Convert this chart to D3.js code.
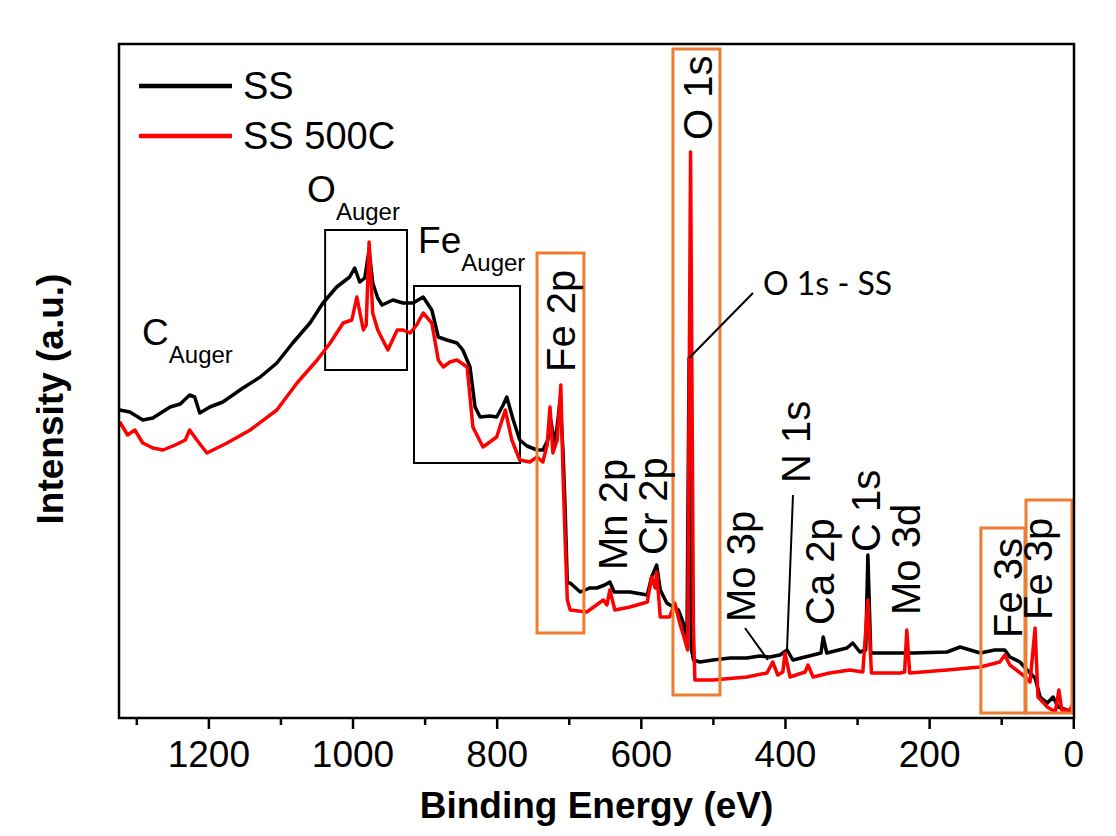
<!DOCTYPE html>
<html>
<head>
<meta charset="utf-8">
<script src="https://cdn.jsdelivr.net/npm/d3@7"></script>
<style>
  body { margin: 0; background: #fff; }
  svg { display: block; font-family: "Liberation Sans", Arial, sans-serif; }
</style>
</head>
<body>
<div id="chart"></div>
<script>
// XPS survey spectra (binding energy in eV, intensity in a.u.)
const ssEnergy = [1323, 1309, 1291, 1277, 1264, 1253, 1239, 1226, 1219, 1212, 1198, 1180, 1152, 1128, 1105, 1083,
  1059, 1041, 1022, 1004, 997, 990, 983, 977, 972, 965, 959, 944, 930, 916, 902, 890, 881, 869, 855, 847, 837,
  830, 823, 809, 800, 791, 786, 777, 768, 758, 744, 736, 729, 725, 719, 712, 708, 705, 702, 698, 684, 671, 661,
  650, 643, 637, 615, 591, 585, 578, 573, 564, 555, 548, 541, 536, 533, 530, 527, 518, 500, 476, 453, 435, 421,
  407, 397, 389, 361, 350, 347, 342, 314, 306, 296, 288, 285, 281, 245, 222, 175, 157, 129, 109, 95, 88, 74, 64,
  53, 46, 36, 28, 21, 9, 0];
const ssIntensity = [308, 306, 298, 300, 306, 311, 314, 323, 321, 305, 311, 316, 330, 341, 355, 375,
  395, 415, 431, 441, 450, 436, 440, 468, 435, 420, 413, 418, 415, 415, 421, 408, 381, 378, 375, 368, 351,
  311, 301, 302, 301, 313, 321, 298, 278, 272, 268, 268, 278, 298, 273, 318, 268, 208, 135, 135, 126, 130, 130,
  133, 136, 126, 126, 123, 141, 153, 128, 115, 111, 108, 95, 75, 360, 70, 58, 56, 58, 60, 60, 62, 61,
  63, 68, 58, 63, 65, 81, 65, 70, 75, 66, 68, 163, 65, 65, 65, 66, 71, 65, 68, 68, 61, 56, 48,
  40, 21, 15, 21, 11, 8, 5];

const ss500Energy = [1323, 1312, 1302, 1291, 1277, 1263, 1246, 1232, 1226, 1216, 1202, 1188, 1174, 1142, 1105, 1077,
  1049, 1031, 1013, 1001, 994, 985, 981, 977, 972, 965, 958, 951, 938, 930, 920, 911, 902, 890, 881, 874, 865,
  855, 841, 833, 819, 800, 788, 779, 768, 754, 744, 736, 730, 726, 722, 716, 711, 708, 705, 702, 698, 675, 652,
  647, 643, 636, 615, 591, 585, 580, 578, 573, 560, 553, 546, 539, 535, 531, 527, 525, 500, 453, 425, 417, 410,
  403, 400, 393, 372, 368, 361, 338, 310, 292, 285, 280, 240, 234, 231, 227, 175, 129, 102, 95, 88, 70, 60, 53,
  49, 36, 25, 20, 16, 5, 0];
const ss500Intensity = [296, 283, 288, 275, 270, 268, 273, 278, 288, 278, 265, 270, 275, 288, 308, 335,
  358, 375, 395, 398, 421, 388, 393, 476, 405, 388, 378, 368, 388, 388, 385, 393, 405, 395, 358, 351, 356,
  358, 351, 291, 271, 281, 308, 278, 258, 256, 261, 256, 273, 311, 265, 278, 333, 245, 178, 118, 108, 106, 118,
  113, 128, 108, 111, 116, 141, 130, 146, 101, 101, 115, 95, 78, 68, 566, 90, 38, 38, 41, 45, 56, 43,
  46, 65, 41, 46, 53, 41, 45, 48, 46, 118, 45, 45, 46, 88, 45, 48, 51, 56, 63, 53, 43, 36, 90,
  21, 11, 6, 28, 8, 8, 15];

const seriesNames = ["SS", "SS 500C"];
const seriesColors = ["#000000", "#ff0000"];

const majorTicks = [1200, 1000, 800, 600, 400, 200, 0];
const minorTicks = [1300, 1100, 900, 700, 500, 300, 100];

// peak labels: text, energy, intensity where the rotated label starts
const peakLabels = ["O 1s", "Fe 2p", "Mn 2p", "Cr 2p", "Mo 3p", "N 1s", "Ca 2p", "C 1s", "Mo 3d", "Fe 3s", "Fe 3p"];
const peakLabelEnergy = [501, 692, 619, 563, 442, 365, 332, 268, 213, 71, 29.6];
const peakLabelIntensity = [578, 346, 148, 163, 96, 235, 93, 166, 103, 80, 98];

// orange highlight boxes [eV from, eV to, intensity top, intensity bottom]
const orangeBoxes = [[744, 679, 465, 85], [555.4, 490.2, 669, 23], [128.2, 67, 190, 5], [65.6, 1.8, 218, 5]];
// black Auger boxes
const augerBoxes = [[1038, 924.4, 488, 348], [914.7, 767.6, 432, 255]];
const augerLabels = [["C", 1292, 373], ["O", 1063, 516], ["Fe", 909, 465]];

const width = 1116, height = 836;
const plotLeft = 119, plotRight = 1074, plotTop = 44, plotBottom = 718;

const svg = d3.select("#chart").append("svg")
  .attr("width", width).attr("height", height);

const x = d3.scaleLinear().domain([1324, -1]).range([plotLeft, plotRight]);
const y = d3.scaleLinear().domain([0, 674]).range([plotBottom, plotTop]);

svg.append("defs").append("clipPath").attr("id", "plot")
  .append("rect").attr("x", plotLeft).attr("y", plotTop)
  .attr("width", plotRight - plotLeft).attr("height", plotBottom - plotTop);

// Auger boxes
svg.append("g").selectAll("rect").data(augerBoxes).enter()
  .append("rect")
  .attr("x", d => x(d[0])).attr("y", d => y(d[2]))
  .attr("width", d => x(d[1]) - x(d[0])).attr("height", d => y(d[3]) - y(d[2]))
  .attr("fill", "none").attr("stroke", "#000").attr("stroke-width", 2);

// spectra
const line = d3.line().x(d => x(d[0])).y(d => y(d[1]));
const series = [
  d3.zip(ssEnergy, ssIntensity),
  d3.zip(ss500Energy, ss500Intensity)
];
svg.append("g").attr("clip-path", "url(#plot)")
  .selectAll("path").data(series).enter()
  .append("path")
  .attr("d", line)
  .attr("fill", "none")
  .attr("stroke", (d, i) => seriesColors[i])
  .attr("stroke-width", 3.5)
  .attr("stroke-linejoin", "round");

// orange boxes
svg.append("g").selectAll("rect").data(orangeBoxes).enter()
  .append("rect")
  .attr("x", d => x(d[0])).attr("y", d => y(d[2]))
  .attr("width", d => x(d[1]) - x(d[0])).attr("height", d => y(d[3]) - y(d[2]))
  .attr("fill", "none").attr("stroke", "#ed7d31").attr("stroke-width", 3);

// frame
svg.append("rect")
  .attr("x", plotLeft).attr("y", plotTop)
  .attr("width", plotRight - plotLeft).attr("height", plotBottom - plotTop)
  .attr("fill", "none").attr("stroke", "#000").attr("stroke-width", 2.5);

// x axis
const xAxis = svg.append("g")
  .attr("transform", "translate(0," + plotBottom + ")")
  .call(d3.axisBottom(x).tickValues(majorTicks).tickSize(11).tickSizeOuter(0).tickPadding(12)
    .tickFormat(d3.format("d")));
xAxis.select(".domain").remove();
xAxis.selectAll("line").attr("stroke-width", 2.5);
xAxis.selectAll("text").attr("font-size", 37).attr("font-family", "Liberation Sans, Arial, sans-serif").attr("fill", "#000");

const xMinor = svg.append("g")
  .attr("transform", "translate(0," + plotBottom + ")")
  .call(d3.axisBottom(x).tickValues(minorTicks).tickSize(7).tickFormat(""));
xMinor.select(".domain").remove();
xMinor.selectAll("line").attr("stroke-width", 2.5);

// axis titles
svg.append("text")
  .attr("x", (plotLeft + plotRight) / 2).attr("y", 818)
  .attr("text-anchor", "middle")
  .attr("font-size", 37).attr("font-weight", "bold")
  .text("Binding Energy (eV)");

svg.append("text")
  .attr("transform", "translate(63,399) rotate(-90)")
  .attr("text-anchor", "middle")
  .attr("font-size", 37).attr("font-weight", "bold")
  .text("Intensity (a.u.)");

// legend
const legend = svg.append("g");
seriesNames.forEach((name, i) => {
  legend.append("line")
    .attr("x1", 139).attr("x2", 232)
    .attr("y1", 86 + i * 50).attr("y2", 86 + i * 50)
    .attr("stroke", seriesColors[i]).attr("stroke-width", 4.5);
  legend.append("text")
    .attr("x", 243).attr("y", 99 + i * 50)
    .attr("font-size", 38)
    .text(name);
});

// peak labels (rotated)
svg.append("g").selectAll("text").data(peakLabels).enter()
  .append("text")
  .attr("transform", (d, i) => "translate(" + x(peakLabelEnergy[i]) + "," + y(peakLabelIntensity[i]) + ") rotate(-90)")
  .attr("font-size", 40)
  .text(d => d);

// Auger labels with subscript
augerLabels.forEach(a => {
  const t = svg.append("text")
    .attr("x", x(a[1])).attr("y", y(a[2]))
    .attr("font-size", 37);
  t.append("tspan").text(a[0]);
  t.append("tspan").attr("font-size", 24).attr("dy", 18).text("Auger");
});

// leader lines
const leaders = [[444.4, 425, 533, 360], [455.5, 90, 423.6, 58], [388.9, 223, 397.2, 68]];
svg.append("g").selectAll("line").data(leaders).enter()
  .append("line")
  .attr("x1", d => x(d[0])).attr("y1", d => y(d[1]))
  .attr("x2", d => x(d[2])).attr("y2", d => y(d[3]))
  .attr("stroke", "#000").attr("stroke-width", 2);

svg.append("text")
  .attr("x", x(430.5)).attr("y", y(423))
  .attr("font-family", "Lato, 'Open Sans', sans-serif")
  .attr("font-size", 32)
  .text("O 1s - SS");
</script>
</body>
</html>
